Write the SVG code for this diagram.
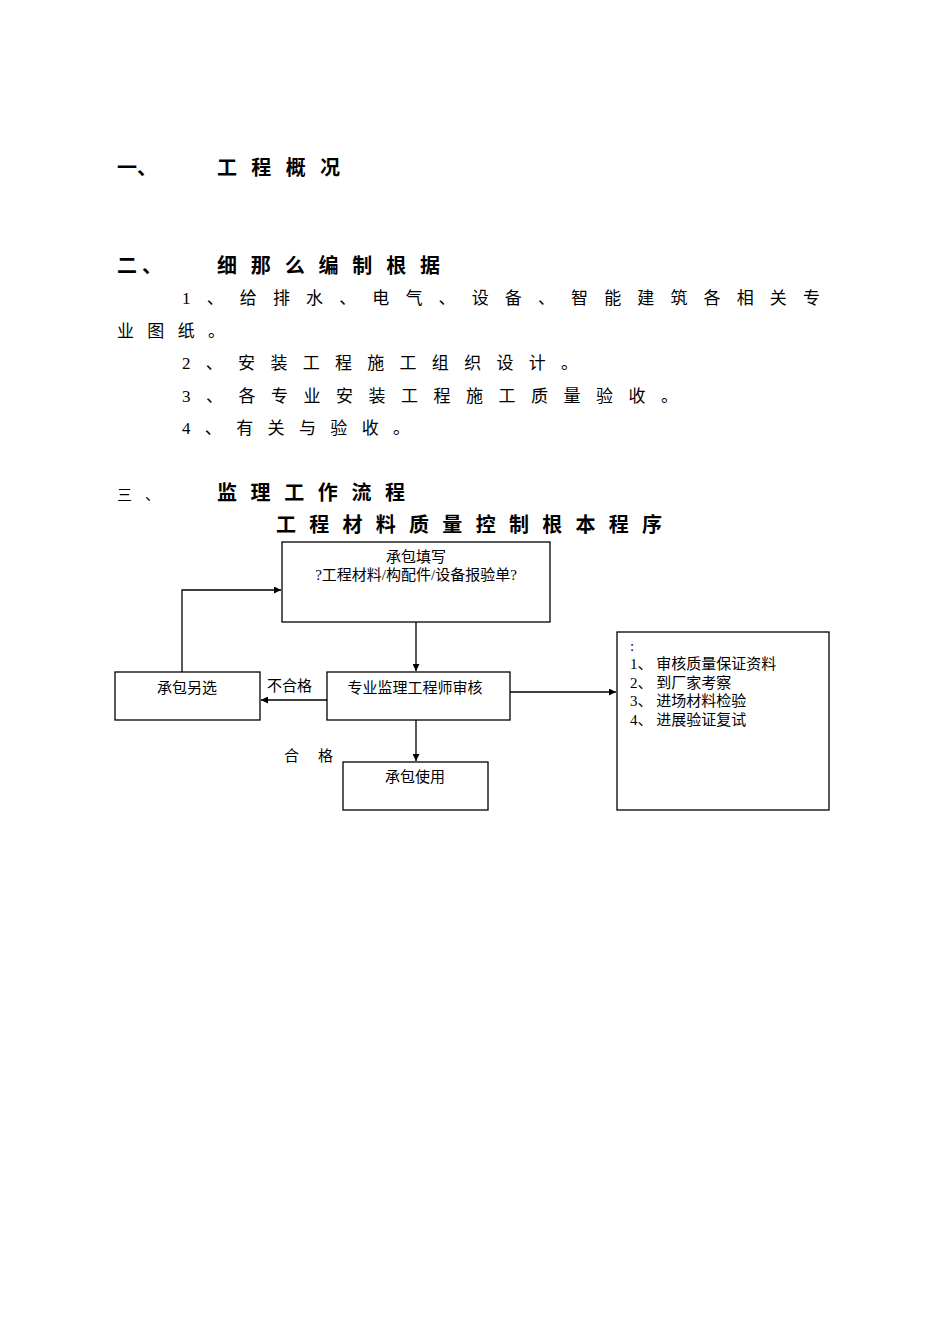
<svg xmlns="http://www.w3.org/2000/svg" width="950" height="1344" viewBox="0 0 950 1344">
<style>
text{font-family:"Liberation Serif","Noto Sans CJK SC",serif;fill:#000}
.h{font-size:20px;font-weight:bold}
.b{font-size:17px}
.n{font-size:15px}
.c{font-size:15px;text-anchor:middle}
rect{fill:#fff;stroke:#000;stroke-width:1.3}
#connectors path{fill:none;stroke:#000;stroke-width:1.3;marker-end:url(#a)}
</style>
<defs><marker id="a" viewBox="0 0 10 10" refX="10" refY="5" markerWidth="7" markerHeight="7" orient="auto" markerUnits="userSpaceOnUse"><path d="M0,0L10,5L0,10z" fill="#000"/></marker></defs>
<rect x="0" y="0" width="950" height="1344" style="stroke:none"/>
<text class="h" x="117" y="175">一、</text>
<text class="h" x="217" y="175" textLength="123" lengthAdjust="spacing">工程概况</text>
<text class="h" x="117" y="273" textLength="45" lengthAdjust="spacing">二、</text>
<text class="h" x="217" y="273" textLength="223" lengthAdjust="spacing">细那么编制根据</text>
<text class="b" x="182" y="304" textLength="638" lengthAdjust="spacing">1、给排水、电气、设备、智能建筑各相关专</text>
<text class="b" x="117" y="337" textLength="108" lengthAdjust="spacing">业图纸。</text>
<text class="b" x="182" y="369" textLength="396" lengthAdjust="spacing">2、安装工程施工组织设计。</text>
<text class="b" x="182" y="402" textLength="496" lengthAdjust="spacing">3、各专业安装工程施工质量验收。</text>
<text class="b" x="182" y="434" textLength="228" lengthAdjust="spacing">4、有关与验收。</text>
<text class="n" x="117" y="500" textLength="43" lengthAdjust="spacing">三、</text>
<text class="h" x="217" y="500" textLength="188" lengthAdjust="spacing">监理工作流程</text>
<text class="h" x="276" y="532" textLength="386" lengthAdjust="spacing">工程材料质量控制根本程序</text>
<g id="connectors">
<path d="M182,672V590H281"/>
<path d="M416,622V671"/>
<path d="M327,700H261"/>
<path d="M416,720V761"/>
<path d="M510,692H616"/>
</g>
<g id="n1"><rect x="282" y="542" width="268" height="80"/><text class="c" x="416" y="562">承包填写</text><text class="c" x="416" y="580">?工程材料/构配件/设备报验单?</text></g>
<g id="n2"><rect x="327" y="672" width="183" height="48"/><text class="c" x="415" y="693">专业监理工程师审核</text></g>
<g id="n3"><rect x="115" y="672" width="145" height="48"/><text class="c" x="187" y="693">承包另选</text></g>
<g id="n4"><rect x="343" y="762" width="145" height="48"/><text class="c" x="415" y="782">承包使用</text></g>
<g id="n5"><rect x="617" y="632" width="212" height="178"/><text class="n" x="630" y="651">:</text><text class="n" x="630" y="669">1、 审核质量保证资料</text><text class="n" x="630" y="688">2、 到厂家考察</text><text class="n" x="630" y="706">3、 进场材料检验</text><text class="n" x="630" y="725">4、 进展验证复试</text></g>
<text class="n" x="267" y="691">不合格</text>
<text class="n" x="284" y="761" textLength="49" lengthAdjust="spacing">合格</text>
</svg>
